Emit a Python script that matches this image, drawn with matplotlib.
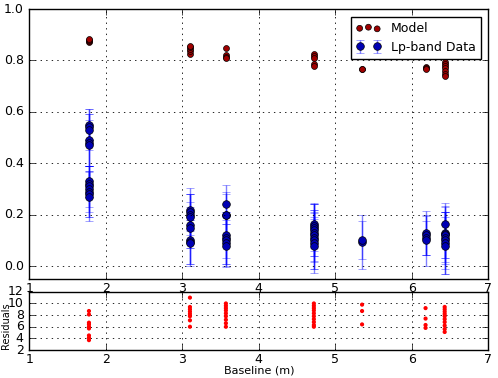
import matplotlib
matplotlib.use("Agg")
import matplotlib.pyplot as plt
import numpy as np

plt.style.use("classic")
plt.rcParams["font.family"] = ["DejaVu Sans"]
plt.rcParams["font.size"] = 9

baselines = [1.78, 3.10, 3.57, 4.72, 5.35, 6.18, 6.43]

model_vals = [
    [0.870, 0.875, 0.880, 0.885],
    [0.826, 0.835, 0.845, 0.852, 0.858],
    [0.849, 0.822, 0.815, 0.810],
    [0.825, 0.818, 0.810, 0.785, 0.780],
    [0.765, 0.767],
    [0.775, 0.770, 0.765],
    [0.795, 0.785, 0.778, 0.770, 0.760, 0.748, 0.738],
]

data_vals = [
    [0.55, 0.54, 0.53, 0.49, 0.48, 0.47, 0.33, 0.32, 0.31, 0.30, 0.29, 0.28, 0.27],
    [0.22, 0.21, 0.20, 0.19, 0.16, 0.15, 0.10, 0.095, 0.09],
    [0.24, 0.20, 0.20, 0.12, 0.11, 0.10, 0.09, 0.08],
    [0.165, 0.155, 0.15, 0.14, 0.13, 0.12, 0.11, 0.10, 0.09, 0.08],
    [0.095, 0.102],
    [0.13, 0.12, 0.11, 0.10],
    [0.165, 0.13, 0.125, 0.12, 0.11, 0.10, 0.09, 0.08],
]

data_errs = [
    [0.06, 0.05, 0.08, 0.10, 0.09, 0.08, 0.06, 0.05, 0.08, 0.09, 0.10, 0.09, 0.095],
    [0.085, 0.07, 0.08, 0.09, 0.09, 0.08, 0.09, 0.085, 0.09],
    [0.075, 0.09, 0.08, 0.09, 0.10, 0.09, 0.09, 0.085],
    [0.08, 0.085, 0.09, 0.10, 0.09, 0.10, 0.095, 0.11, 0.10, 0.105],
    [0.105, 0.075],
    [0.086, 0.076, 0.066, 0.10],
    [0.08, 0.10, 0.11, 0.09, 0.10, 0.11, 0.12, 0.11],
]

resid_vals = [
    [8.7, 8.1, 6.7, 6.4, 6.0, 5.7, 4.5, 4.1, 3.7],
    [11.0, 9.4, 9.0, 8.6, 8.2, 7.8, 7.1, 6.0],
    [10.0, 9.6, 9.2, 8.8, 8.3, 7.8, 7.2, 6.6, 6.0],
    [10.0, 9.6, 9.2, 8.8, 8.3, 7.8, 7.3, 6.8, 6.3, 6.0],
    [9.8, 8.7, 6.4],
    [9.2, 7.4, 6.3, 5.8],
    [9.4, 9.0, 8.6, 8.2, 7.8, 7.3, 6.8, 6.2, 5.6, 5.1],
]


def flatten(groups):
    xs, ys = [], []
    for b, g in zip(baselines, groups):
        xs += [b] * len(g)
        ys += list(g)
    return np.array(xs), np.array(ys)


mx, my = flatten(model_vals)
dx, dy = flatten(data_vals)
_, de = flatten(data_errs)
rx, ry = flatten(resid_vals)

fig = plt.figure(figsize=(4.98, 3.78), dpi=100)
fig.patch.set_facecolor("white")

ax1 = fig.add_axes([0.0588, 0.262, 0.9217, 0.714])
ax1.errorbar(dx, dy, yerr=de, fmt="o", color="#0000b4", mfc="#0000b4",
             mec="k", mew=0.5, ms=5.5, ecolor=(0, 0, 1, 0.5), elinewidth=1,
             capsize=2.8, label="Lp-band Data", zorder=2)
ax1.scatter(mx, my, s=18, c="#a00000", edgecolors="k", linewidths=0.5,
            label="Model", zorder=3)
ax1.set_xlim(1, 7)
ax1.set_ylim(-0.05, 1.0)
ax1.set_yticks([0.0, 0.2, 0.4, 0.6, 0.8, 1.0])
ax1.grid(True, linestyle=":", color="k", linewidth=0.6)
ax1.set_ylabel("Vis2", fontsize=8)
ax1.yaxis.set_label_coords(-0.058, 0.5)
ax1.tick_params(labelsize=9, length=4)
ax1.tick_params(axis="x", pad=2)
ax1.legend(loc="upper right", fontsize=9, numpoints=2,
           scatterpoints=3, borderaxespad=0.6)

ax2 = fig.add_axes([0.0588, 0.074, 0.9217, 0.154])
ax2.scatter(rx, ry, s=9, c="red", edgecolors="none", zorder=3)
ax2.set_xlim(1, 7)
ax2.set_ylim(2, 12)
ax2.set_yticks([2, 4, 6, 8, 10, 12])
ax2.grid(True, linestyle=":", color="k", linewidth=0.6)
ax2.set_ylabel("Residuals", fontsize=7)
ax2.yaxis.set_label_coords(-0.039, 0.42)
ax2.set_xlabel("Baseline (m)", fontsize=8)
ax2.xaxis.set_label_coords(0.5, -0.27)
ax2.tick_params(labelsize=9, length=4)
ax2.tick_params(axis="x", pad=2)

fig.savefig("out.png", dpi=100, facecolor="white")
